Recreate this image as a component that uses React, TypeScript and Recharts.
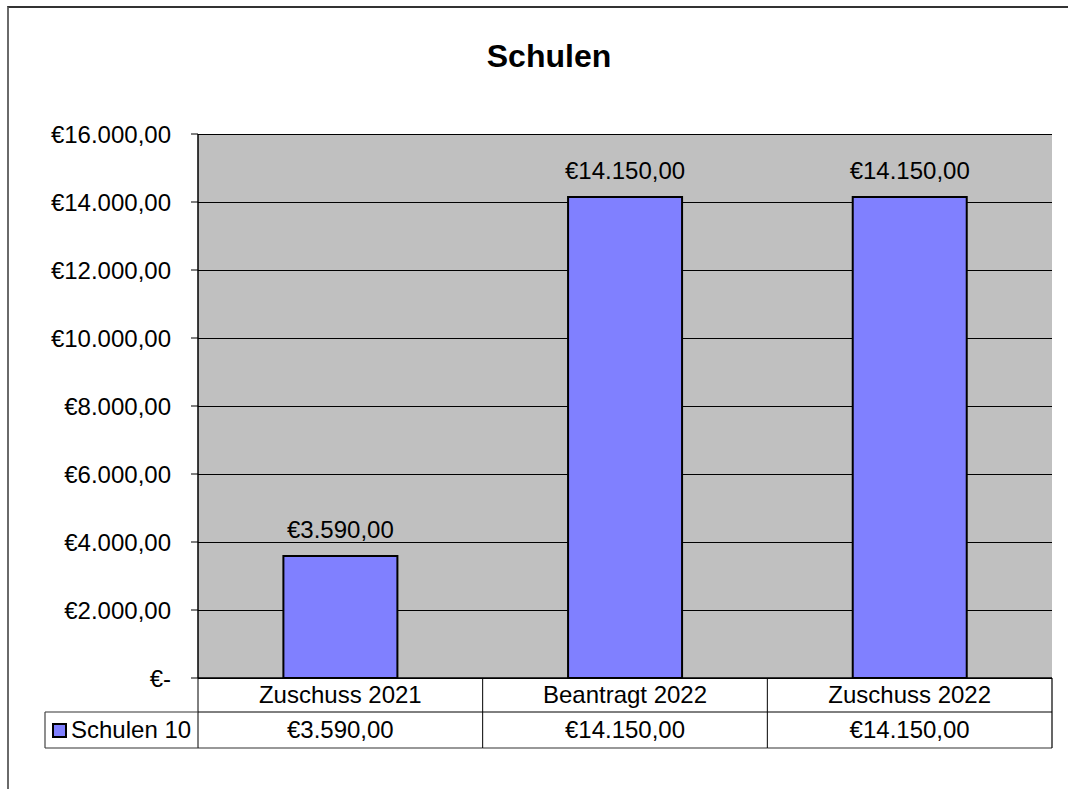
import React from 'react';
import { BarChart, Bar, XAxis, YAxis, CartesianGrid, LabelList } from 'recharts';

const categories = ['Zuschuss 2021', 'Beantragt 2022', 'Zuschuss 2022'];
const seriesName = 'Schulen 10';
const schulenValues = [3590, 14150, 14150];
const yTicks = [0, 2000, 4000, 6000, 8000, 10000, 12000, 14000, 16000];
const chartTitle = 'Schulen';

const data = categories.map((c, i) => ({ name: c, value: schulenValues[i] }));

const W = 1068;
const H = 789;
const MARGIN = { top: 134, right: 16, bottom: 0, left: 0 };
const Y_AXIS_W = 198;
const X_AXIS_H = 111;
const PLOT_W = W - MARGIN.left - MARGIN.right - Y_AXIS_W;
const BAND = PLOT_W / categories.length;
const FONT = '"Liberation Sans", Arial, sans-serif';
const FS = 24;
const BAR_FILL = '#8080FF';

function euro(v: number): string {
  if (v === 0) return '€-';
  const fixed = v.toFixed(2);
  const [intPart, dec] = fixed.split('.');
  const withDots = intPart.replace(/\B(?=(\d{3})+(?!\d))/g, '.');
  return '€' + withDots + ',' + dec;
}

const TableTick = (props: any) => {
  const { x, y, index, payload } = props;
  const left = x - BAND / 2;
  const right = x + BAND / 2;
  const r1 = 34;
  const r2 = 36;
  const isLast = index === categories.length - 1;
  return (
    <g>
      <line x1={left} x2={right} y1={y + r1} y2={y + r1} stroke="#000" strokeWidth={1} />
      <line x1={left} x2={right} y1={y + r1 + r2} y2={y + r1 + r2} stroke="#333" strokeWidth={1.2} />
      <line x1={left} x2={left} y1={y} y2={y + r1 + r2} stroke="#000" strokeWidth={1} />
      {isLast && <line x1={right} x2={right} y1={y} y2={y + r1 + r2} stroke="#000" strokeWidth={1.2} />}
      <text x={x} y={y + 25} textAnchor="middle" fontSize={FS} fontFamily={FONT} fill="#000">
        {payload.value}
      </text>
      <text x={x} y={y + 60} textAnchor="middle" fontSize={FS} fontFamily={FONT} fill="#000">
        {euro(schulenValues[index])}
      </text>
      {index === 0 && (
        <g>
          <line x1={left - 153} x2={left} y1={y + r1} y2={y + r1} stroke="#333" strokeWidth={1.2} />
          <line x1={left - 153} x2={left} y1={y + r1 + r2} y2={y + r1 + r2} stroke="#333" strokeWidth={1.2} />
          <line x1={left - 153} x2={left - 153} y1={y + r1} y2={y + r1 + r2} stroke="#444" strokeWidth={1.2} />
          <rect x={left - 145} y={y + 46} width={13} height={13} fill={BAR_FILL} stroke="#000" strokeWidth={2} />
          <text x={left - 127} y={y + 60} textAnchor="start" fontSize={FS} fontFamily={FONT} fill="#000">
            {seriesName}
          </text>
        </g>
      )}
    </g>
  );
};

export default function App() {
  return (
    <div style={{ position: 'absolute', left: 0, top: 0, width: W, height: H, background: '#fff' }}>
      <div
        style={{
          position: 'absolute',
          left: 7,
          top: 6,
          width: W - 7,
          height: H - 6,
          borderTop: '2px solid #333',
          borderLeft: '2px solid #6a6a6a',
          boxSizing: 'border-box',
        }}
      />
      <div
        style={{
          position: 'absolute',
          left: 449,
          top: 40,
          width: 200,
          textAlign: 'center',
          fontFamily: FONT,
          fontWeight: 'bold',
          fontSize: 32,
          lineHeight: '32px',
          color: '#000',
        }}
      >
        {chartTitle}
      </div>
      <div style={{ position: 'absolute', left: 0, top: 0 }}>
        <BarChart width={W} height={H} data={data} margin={MARGIN} barCategoryGap="30%">
          <CartesianGrid vertical={false} stroke="#000" strokeWidth={1} fill="#C0C0C0" fillOpacity={1} shapeRendering="crispEdges" />
          <XAxis
            dataKey="name"
            height={X_AXIS_H}
            axisLine={{ stroke: '#000', strokeWidth: 1.5 }}
            tickLine={false}
            tickSize={0}
            tickMargin={0}
            tick={<TableTick />}
            interval={0}
          />
          <XAxis xAxisId="top" orientation="top" height={0} tick={false} tickLine={false} axisLine={{ stroke: '#808080', strokeWidth: 2.5 }} />
          <YAxis
            width={Y_AXIS_W}
            domain={[0, 16000]}
            ticks={yTicks}
            interval={0}
            tickFormatter={euro}
            tickSize={7}
            tickMargin={20}
            axisLine={{ stroke: '#000', strokeWidth: 1.5 }}
            tickLine={{ stroke: '#000' }}
            tick={{ fill: '#000', fontSize: FS, fontFamily: FONT }}
          />
          <YAxis yAxisId="right" orientation="right" width={0} tick={false} tickLine={false} axisLine={{ stroke: '#808080', strokeWidth: 2.5 }} />
          <Bar dataKey="value" fill={BAR_FILL} stroke="#000" strokeWidth={2} isAnimationActive={false}>
            <LabelList
              dataKey="value"
              position="top"
              offset={18}
              formatter={(v: any) => euro(Number(v))}
              style={{ fontSize: FS, fontFamily: FONT, fill: '#000' }}
            />
          </Bar>
        </BarChart>
      </div>
    </div>
  );
}
